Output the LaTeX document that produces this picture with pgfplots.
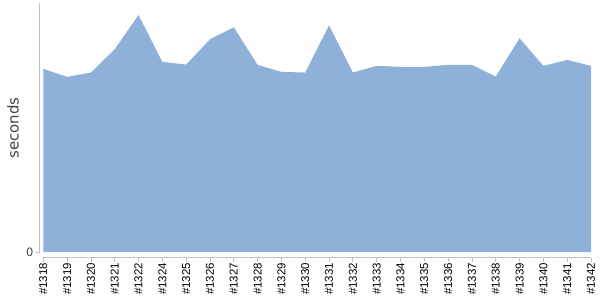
\documentclass[border=0pt]{standalone}
\usepackage{pgfplots}
\pgfplotsset{compat=1.18}
\usepackage{fontspec}
\setmainfont{Liberation Sans}
\newfontfamily\dejavu{DejaVu Sans}
\definecolor{areac}{RGB}{143,177,217}
\definecolor{axgray}{RGB}{192,192,192}
\definecolor{labgray}{RGB}{68,68,68}
\begin{document}
\begin{tikzpicture}
\path[use as bounding box] (-39.7bp,-42.3bp) rectangle (560.3bp,257.7bp);
\begin{axis}[
  at={(0,0)}, anchor=south west,
  scale only axis, width=551.3bp, height=254.4bp,
  xmin=-0.15, xmax=23, ymin=-5.5, ymax=249.4,
  axis line style={draw=none},
  clip=false,
  /pgf/number format/assume math mode=true,
  xtick={0,...,23},
  xticklabels={\#1318,\#1319,\#1320,\#1321,\#1322,\#1324,\#1325,\#1326,\#1327,\#1328,\#1329,\#1330,\#1331,\#1332,\#1333,\#1334,\#1335,\#1336,\#1337,\#1338,\#1339,\#1340,\#1341,\#1342},
  xtick pos=bottom, ytick pos=left,
  ytick={0}, yticklabels={0},
  tick align=outside, major tick length=4bp,
  tick style={axgray, line width=0.8bp},
  xticklabel style={rotate=90, anchor=east, font=\fontsize{11.5}{12}\selectfont, inner sep=1bp},
  yticklabel style={font=\dejavu\fontsize{11.5}{12}\selectfont, text=labgray, inner sep=2bp},
]
\addplot[draw=none, fill=areac] coordinates {
(0,0) (0,183.7) (1,175.7) (2,180) (3,203.4) (4,237.7) (5,190.7) (6,188) (7,213.4)
(8,225.4) (9,187.7) (10,180.7) (11,180) (12,227.4) (13,180) (14,186.7) (15,185.7)
(16,185.7) (17,187.7) (18,187.7) (19,176) (20,214.4) (21,186.7) (22,192.7) (23,186.7) (23,0)
};
\draw[axgray, line width=0.8bp] (axis cs:-0.15,0) -- (axis cs:-0.15,249.4);
\draw[axgray, line width=0.8bp] (axis cs:0,-5.5) -- (axis cs:23,-5.5);
\end{axis}
\node[rotate=90, font=\dejavu\fontsize{15}{16}\selectfont, text=labgray] at (-26.7bp,129.7bp) {seconds};
\end{tikzpicture}
\end{document}
